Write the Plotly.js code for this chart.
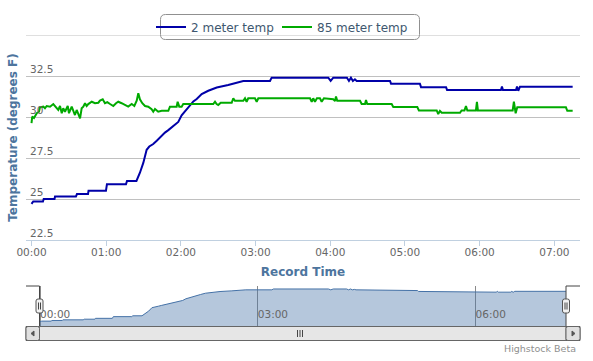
<!DOCTYPE html>
<html>
<head>
<meta charset="utf-8">
<script src="https://cdn.plot.ly/plotly-3.0.1.min.js"></script>
<style>html,body{margin:0;padding:0;background:#fff;}#chart{width:593px;height:361px;}</style>
</head>
<body>
<div id="chart"></div>
<script>
// ---- Data (minutes after 00:00, temperature in °F) ----
const seriesNames = ['2 meter temp', '85 meter temp'];

const blueMinutes = [0, 1.4, 9.2, 9.8, 18.5, 18.9, 35.7, 36.5, 45.4, 45.8, 59.8, 60.6, 75.9, 76.7, 84.3, 87.1, 89.8, 92.5, 94.6, 97.8,
  100.6, 103.2, 107.2, 109.9, 113.9, 117.9, 120.6, 123.3, 125.9, 130.0, 132.7, 136.7, 142.0, 148.8, 158.0, 170.1, 191.6, 192.9, 238.4, 240.3,
  242.4, 253.4, 255.0, 256.6, 258.2, 259.8, 261.2, 288.0, 288.8, 312.0, 312.9, 333.0, 333.8, 377.1, 377.9, 378.7, 389.2, 390.0, 391.0, 392.4,
  434.7];
const blueTemps = [24.7, 24.85, 24.85, 25.0, 25.0, 25.15, 25.15, 25.3, 25.3, 25.5, 25.5, 25.9, 25.9, 26.1, 26.1, 26.6, 27.2, 28.0, 28.2, 28.35,
  28.55, 28.75, 29.05, 29.2, 29.45, 29.7, 30.1, 30.35, 30.55, 30.95, 31.1, 31.4, 31.6, 31.8, 31.95, 32.2, 32.2, 32.4, 32.4, 32.2,
  32.4, 32.4, 32.2, 32.4, 32.2, 32.3, 32.2, 32.2, 32.03, 32.03, 31.82, 31.82, 31.65, 31.65, 31.85, 31.65, 31.65, 31.85, 31.6, 31.85,
  31.85];

const greenMinutes = [0, 0.6, 2.0, 4.2, 6.0, 6.8, 9.5, 10.8, 12.2, 14.9, 17.5, 18.9, 21.5, 22.9, 24.3, 25.5, 26.9, 29.1, 30.1, 32.3,
  33.6, 34.9, 36.3, 37.6, 39.0, 40.3, 41.6, 43.0, 44.3, 45.6, 48.4, 51.0, 53.7, 55.0, 57.2, 59.0, 60.9, 63.1, 65.7, 67.9,
  69.7, 72.4, 75.1, 77.7, 80.5, 82.6, 84.5, 85.8, 87.1, 89.0, 91.2, 93.8, 96.5, 97.8, 99.2, 100.6, 101.8, 104.6, 109.9, 111.2,
  116.6, 117.4, 118.7, 120.6, 121.9, 146.0, 147.4, 148.7, 150.0, 152.0, 160.8, 162.1, 163.4, 170.1, 171.5, 172.8, 174.1, 179.5, 180.9, 182.2,
  223.7, 225.1, 226.3, 227.7, 229.3, 231.7, 233.1, 234.9, 242.4, 243.8, 244.6, 245.6, 263.9, 265.2, 267.9, 268.7, 269.7, 289.3, 290.6, 309.9,
  311.2, 325.5, 326.7, 328.1, 329.5, 344.2, 345.5, 347.8, 349.0, 350.1, 357.0, 357.8, 358.6, 386.5, 387.5, 388.9, 390.2, 392.4, 429.3, 430.4,
  434.7];
const greenTemps = [29.62, 30.02, 29.94, 30.23, 30.32, 30.59, 30.63, 30.53, 30.67, 30.63, 30.79, 30.67, 30.43, 30.67, 30.23, 30.53, 30.32, 30.67, 30.23, 30.63,
  30.32, 30.12, 30.43, 30.23, 29.92, 30.53, 30.63, 30.84, 30.67, 30.79, 30.93, 30.84, 30.87, 31.0, 31.08, 30.84, 30.91, 30.79, 30.67, 30.84,
  30.93, 30.84, 30.73, 30.63, 30.79, 30.67, 30.99, 31.45, 31.08, 30.84, 30.67, 30.63, 30.47, 30.32, 30.49, 30.38, 30.32, 30.38, 30.38, 30.63,
  30.63, 30.93, 30.63, 30.63, 30.79, 30.79, 30.93, 30.79, 30.73, 30.87, 30.87, 31.14, 30.99, 30.99, 31.14, 30.93, 31.14, 31.14, 30.93, 31.14,
  31.14, 30.93, 31.14, 30.93, 31.14, 31.14, 30.93, 31.14, 31.08, 30.98, 31.25, 30.99, 30.99, 30.79, 30.79, 31.04, 30.79, 30.79, 30.61, 30.61,
  30.4, 30.4, 30.18, 30.37, 30.26, 30.26, 30.4, 30.4, 30.67, 30.4, 30.4, 30.93, 30.4, 30.4, 30.93, 30.23, 30.59, 30.59, 30.59, 30.38,
  30.38];

const yTickVals = [22.5, 25, 27.5, 30, 32.5];
const yTickText = ['22.5', '25', '27.5', '30', '32.5'];
const xTickHours = [0, 1, 2, 3, 4, 5, 6, 7];
const xTickText = ['00:00', '01:00', '02:00', '03:00', '04:00', '05:00', '06:00', '07:00'];

// ---- helpers ----
const base = Date.UTC(2011, 0, 1);
const toX = m => base + m * 60000;
const W = 593 - 26 - 13, H = 326 - 35;
const X = px => (px - 26) / W;
const Y = py => (326 - py) / H;
function rr(x0, y0, x1, y1, r) {
  return `M ${X(x0 + r)},${Y(y0)} L ${X(x1 - r)},${Y(y0)} Q ${X(x1)},${Y(y0)} ${X(x1)},${Y(y0 + r)} ` +
         `L ${X(x1)},${Y(y1 - r)} Q ${X(x1)},${Y(y1)} ${X(x1 - r)},${Y(y1)} L ${X(x0 + r)},${Y(y1)} ` +
         `Q ${X(x0)},${Y(y1)} ${X(x0)},${Y(y1 - r)} L ${X(x0)},${Y(y0 + r)} Q ${X(x0)},${Y(y0)} ${X(x0 + r)},${Y(y0)} Z`;
}
function seg(x0, y0, x1, y1, color, w) {
  return {type: 'line', xref: 'paper', yref: 'paper', x0: X(x0), y0: Y(y0), x1: X(x1), y1: Y(y1),
          line: {color: color, width: w || 1}};
}
function pathShape(d, line, fill, lw) {
  return {type: 'path', xref: 'paper', yref: 'paper', path: d, line: {color: line, width: lw || 1}, fillcolor: fill || 'rgba(0,0,0,0)'};
}

const FONT = 'DejaVu Sans, Verdana, sans-serif';

const traces = [
  {x: blueMinutes.map(toX), y: blueTemps, name: seriesNames[0], type: 'scatter', mode: 'lines',
   line: {color: '#0000A8', width: 2}, xaxis: 'x', yaxis: 'y', legend: 'legend'},
  {x: greenMinutes.map(toX), y: greenTemps, name: seriesNames[1], type: 'scatter', mode: 'lines',
   line: {color: '#00AA00', width: 2}, xaxis: 'x', yaxis: 'y', legend: 'legend2'},
  {x: blueMinutes.map(toX), y: blueTemps, name: 'navigator', type: 'scatter', mode: 'lines', fill: 'tozeroy',
   fillcolor: 'rgba(69,114,167,0.4)', line: {color: '#4572A7', width: 1}, xaxis: 'x2', yaxis: 'y2',
   showlegend: false, hoverinfo: 'skip'}
];

const shapes = [
  {type: 'line', xref: 'paper', yref: 'y', x0: 0, x1: 1, y0: 35, y1: 35, line: {color: '#C0C0C0', width: 1}},
  pathShape(rr(160.5, 14.5, 419.5, 39.5, 5), '#909090', 'rgba(0,0,0,0)'),
  pathShape(rr(26, 326.5, 580, 340.5, 0), '#555', '#eeeeee'),
  pathShape(rr(39.5, 326.5, 566, 340.5, 0), '#666', '#e6e6e6'),
  pathShape(rr(26, 326.5, 39.5, 340.5, 2), '#666', '#e0e0e0'),
  pathShape(rr(566, 326.5, 580, 340.5, 2), '#666', '#e0e0e0'),
  pathShape(`M ${X(34)},${Y(331)} L ${X(31)},${Y(333.5)} L ${X(34)},${Y(336)} Z`, '#555', '#555'),
  pathShape(`M ${X(572)},${Y(331)} L ${X(575)},${Y(333.5)} L ${X(572)},${Y(336)} Z`, '#555', '#555'),
  seg(300, 330, 300, 337, '#444'), seg(302.5, 330, 302.5, 337, '#444'), seg(297.5, 330, 297.5, 337, '#444'),
  pathShape(`M ${X(26)},${Y(286)} L ${X(39.5)},${Y(286)} L ${X(39.5)},${Y(326)} M ${X(566)},${Y(326)} L ${X(566)},${Y(286)} L ${X(580)},${Y(286)}`, '#444', 'rgba(0,0,0,0)'),
  pathShape(rr(36, 299, 43, 313, 2), '#555', '#f2f2f2'),
  seg(38.5, 302.5, 38.5, 309.5, '#444'), seg(40.5, 302.5, 40.5, 309.5, '#444'),
  pathShape(rr(562.5, 299, 569.5, 313, 2), '#555', '#f2f2f2'),
  seg(565, 302.5, 565, 309.5, '#444'), seg(567, 302.5, 567, 309.5, '#444')
];

// y tick labels sit inside the plot, left-aligned just above each grid line
const yLabelAnnotations = yTickVals.map((v, i) => ({
  text: yTickText[i], xref: 'paper', yref: 'y', x: X(27.5), y: v, xanchor: 'left', yanchor: 'bottom',
  yshift: -1, showarrow: false, font: {family: FONT, size: 10.5, color: '#666666'}
}));

const legendStyle = {orientation: 'h', xanchor: 'left', xref: 'paper', y: Y(27), yanchor: 'middle',
  font: {family: FONT, size: 12, color: '#3E576F'}, bgcolor: 'rgba(0,0,0,0)', borderwidth: 0,
  itemclick: false, itemdoubleclick: false};

const layout = {
  width: 593, height: 361,
  margin: {l: 26, r: 13, t: 35, b: 35, pad: 0},
  paper_bgcolor: '#ffffff', plot_bgcolor: 'rgba(0,0,0,0)',
  font: {family: FONT, size: 11, color: '#666666'},
  showlegend: true,
  legend: Object.assign({}, legendStyle, {x: X(151)}),
  legend2: Object.assign({}, legendStyle, {x: X(277)}),
  xaxis: {type: 'date', domain: [0, 1], anchor: 'y', range: [toX(-4.42), toX(440.6)],
          tickmode: 'array', tickvals: xTickHours.map(h => toX(h * 60)), ticktext: xTickText,
          showgrid: false, zeroline: false, showline: true, linecolor: '#C0D0E0', linewidth: 1,
          ticks: 'outside', ticklen: 5, tickcolor: '#C0D0E0', tickwidth: 1,
          ticklabeloverflow: 'allow', ticklabelstandoff: -3,
          tickfont: {family: FONT, size: 10.5, color: '#666666'},
          title: {text: 'Record Time', font: {family: FONT, size: 12, color: '#4d759e', weight: 'bold'}, standoff: 11},
          fixedrange: true},
  yaxis: {domain: [Y(240), 1], anchor: 'x', range: [22.5, 35],
          tickmode: 'array', tickvals: yTickVals, ticktext: yTickText, showticklabels: false,
          showgrid: true, gridcolor: '#C0C0C0', gridwidth: 1, zeroline: false, showline: false, ticks: '',
          title: {text: 'Temperature (degrees F)', font: {family: FONT, size: 12, color: '#4d759e', weight: 'bold'}, standoff: 4},
          automargin: false, fixedrange: true},
  xaxis2: {type: 'date', domain: [0, 1], anchor: 'y2', range: [toX(-11.57), toX(446.3)],
           tick0: base, dtick: 3 * 3600000, tickformat: '%H:%M',
           showgrid: true, gridcolor: '#8a8a8a', gridwidth: 1, zeroline: false, showline: false, ticks: '',
           ticklabelposition: 'inside right',
           tickfont: {family: FONT, size: 10.5, color: '#666666'}, fixedrange: true},
  yaxis2: {domain: [0, Y(286)], anchor: 'x2', range: [23.7, 33.1],
           showgrid: false, zeroline: false, showline: false, showticklabels: false, ticks: '', fixedrange: true},
  shapes: shapes,
  annotations: yLabelAnnotations.concat([
    {text: 'Highstock Beta', xref: 'paper', yref: 'paper', x: X(578), y: Y(348), xanchor: 'right', yanchor: 'middle',
     showarrow: false, font: {family: FONT, size: 9.5, color: '#909090'}}
  ])
};

Plotly.newPlot('chart', traces, layout, {displayModeBar: false, staticPlot: true});
</script>
</body>
</html>
